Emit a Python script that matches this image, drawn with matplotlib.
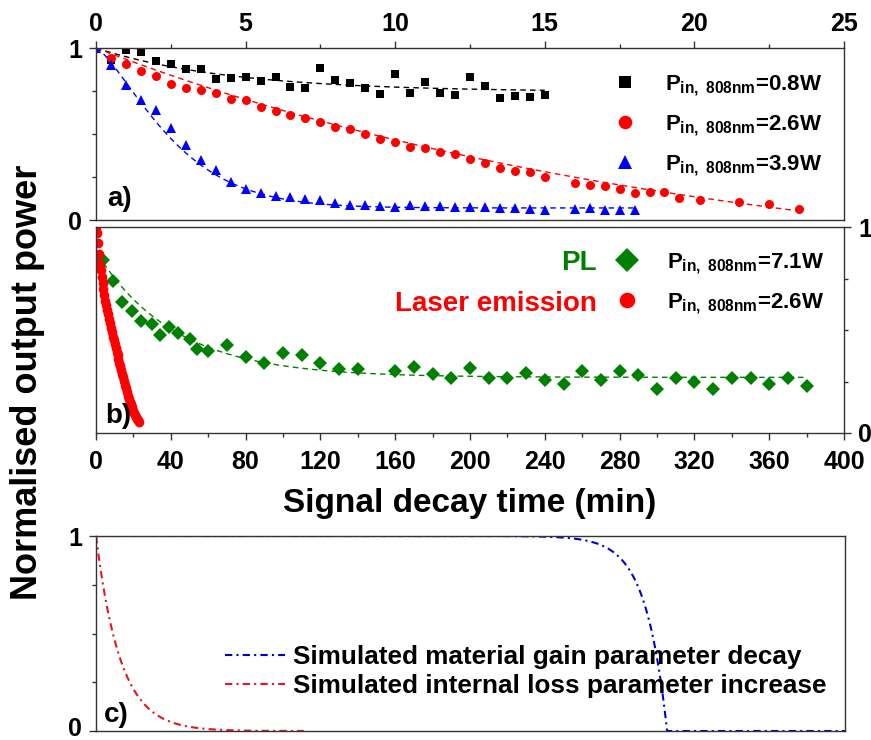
import numpy as np
import matplotlib
matplotlib.use("Agg")
import matplotlib.pyplot as plt
import matplotlib.transforms as mtransforms
from matplotlib.ticker import MultipleLocator, NullLocator

plt.rcParams.update({
    "font.family": ["Liberation Sans", "DejaVu Sans"],
    "font.weight": "bold",
    "axes.labelweight": "bold",
    "mathtext.fontset": "custom",
    "mathtext.rm": "Liberation Sans:bold",
    "mathtext.it": "Liberation Sans:bold",
    "mathtext.bf": "Liberation Sans:bold",
    "axes.linewidth": 1.0,
    "axes.edgecolor": "#333333",
})

# ---------------- panel a: output power vs time (hours) ----------------
t_08 = [0.0, 0.5, 1.0, 1.5, 2.0, 2.5, 3.0, 3.5, 4.0, 4.5, 5.0, 5.5, 6.0, 6.5, 7.0,
        7.5, 8.0, 8.5, 9.0, 9.5, 10.0, 10.5, 11.0, 11.5, 12.0, 12.5, 13.0, 13.5,
        14.0, 14.5, 15.0]
p_08 = [1.0, 0.93, 0.989, 0.979, 0.927, 0.908, 0.880, 0.880, 0.819, 0.823, 0.830,
        0.811, 0.834, 0.773, 0.766, 0.882, 0.815, 0.796, 0.766, 0.735, 0.846,
        0.737, 0.802, 0.737, 0.729, 0.829, 0.777, 0.712, 0.722, 0.716, 0.726]

t_26 = [0.0, 0.5, 1.0, 1.5, 2.0, 2.5, 3.0, 3.5, 4.0, 4.5, 5.0, 5.5, 6.0, 6.5, 7.0,
        7.5, 8.0, 8.5, 9.0, 9.5, 10.0, 10.5, 11.0, 11.5, 12.0, 12.5, 13.0, 13.5,
        14.0, 14.5, 15.0, 16.0, 16.5, 17.0, 17.5, 18.0, 18.5, 19.0, 19.5, 20.2,
        21.5, 22.5, 23.5]
p_26 = [1.0, 0.941, 0.908, 0.868, 0.836, 0.792, 0.766, 0.758, 0.739, 0.703, 0.697,
        0.659, 0.632, 0.608, 0.592, 0.569, 0.539, 0.528, 0.501, 0.469, 0.453,
        0.427, 0.421, 0.398, 0.383, 0.355, 0.334, 0.303, 0.284, 0.278, 0.252,
        0.218, 0.202, 0.195, 0.179, 0.155, 0.164, 0.160, 0.130, 0.117, 0.105,
        0.095, 0.063]

t_39 = [0.0, 0.5, 1.0, 1.5, 2.0, 2.5, 3.0, 3.5, 4.0, 4.5, 5.0, 5.5, 6.0, 6.5, 7.0,
        7.5, 8.0, 8.5, 9.0, 9.5, 10.0, 10.5, 11.0, 11.5, 12.0, 12.5, 13.0, 13.5,
        14.0, 14.5, 15.0, 16.0, 16.5, 17.0, 17.5, 18.0]
p_39 = [1.0, 0.903, 0.785, 0.699, 0.642, 0.535, 0.436, 0.351, 0.290, 0.221, 0.183,
        0.156, 0.141, 0.132, 0.122, 0.117, 0.098, 0.090, 0.090, 0.080, 0.077,
        0.086, 0.084, 0.080, 0.075, 0.075, 0.075, 0.069, 0.069, 0.065, 0.061,
        0.065, 0.069, 0.061, 0.061, 0.061]

# exponential fit parameters: offset, amplitude, time constant (h), stretch
fit_08 = (0.745, 0.255, 4.5, 1.0)
fit_26 = (-0.40, 1.40, 20.8, 1.0)
fit_39 = (0.07, 0.93, 2.86, 1.35)

# ---------------- panel b: PL and laser emission vs time (min) ----------------
t_pl = [4, 9, 14, 19, 24, 30, 34, 39, 44, 50, 54, 60, 70, 80, 90, 100, 110, 120,
        130, 140, 160, 170, 180, 190, 200, 210, 220, 230, 240, 250, 260, 270,
        280, 290, 300, 310, 320, 330, 340, 350, 360, 370, 380]
p_pl = [0.841, 0.740, 0.636, 0.593, 0.543, 0.527, 0.476, 0.514, 0.486, 0.455,
        0.407, 0.399, 0.428, 0.367, 0.338, 0.389, 0.378, 0.338, 0.311, 0.311,
        0.300, 0.319, 0.287, 0.269, 0.317, 0.269, 0.268, 0.290, 0.258, 0.237,
        0.300, 0.258, 0.300, 0.280, 0.216, 0.268, 0.247, 0.216, 0.268, 0.268,
        0.239, 0.268, 0.228]
fit_pl = (0.27, 0.61, 42.0, 1.0)

t_las = [0.0, 0.5, 1.0, 1.5, 2.0, 2.5, 3.0, 3.5, 4.0, 4.5, 5.0, 5.5, 6.0, 6.5,
         7.0, 7.5, 8.0, 8.5, 9.0, 9.5, 10.0, 10.5, 11.0, 11.5, 12.0, 12.5, 13.0,
         13.5, 14.0, 14.5, 15.0, 15.5, 16.0, 16.5, 17.0, 17.5, 18.0, 18.5, 19.0,
         19.5, 20.0, 20.5, 21.0, 21.5, 22.0, 22.5, 23.0]
p_las = [1.00, 0.97, 0.92, 0.87, 0.82, 0.79, 0.755, 0.728, 0.70, 0.668, 0.642,
         0.62, 0.598, 0.576, 0.553, 0.532, 0.51, 0.488, 0.468, 0.45, 0.432,
         0.412, 0.394, 0.377, 0.36, 0.342, 0.325, 0.307, 0.288, 0.27, 0.251,
         0.235, 0.218, 0.20, 0.182, 0.165, 0.152, 0.14, 0.128, 0.117, 0.107,
         0.098, 0.088, 0.08, 0.07, 0.062, 0.055]

# ---------------- panel c: simulated parameters ----------------
gain_knee, gain_scale, gain_end = 305.0, 11.5, 400.0
loss_tau, loss_end = 13.0, 111.0


def stretched_exp(t, params):
    y0, amp, tau, beta = params
    return y0 + amp * np.exp(-(np.asarray(t) / tau) ** beta)


RED = "#ff0000"
BLUE = "#0000ff"
GREEN = "#008000"

fig = plt.figure(figsize=(8.71, 7.40), dpi=100)
ax_a = fig.add_axes([96 / 871, 1 - 220 / 740, 748 / 871, 172 / 740])
ax_b = fig.add_axes([96 / 871, 1 - 433 / 740, 748 / 871, 206 / 740])
ax_c = fig.add_axes([96 / 871, 1 - 731 / 740, 749 / 871, 195 / 740])

tick_kw = dict(direction="out", labelsize=18, width=1.0, color="#333333")
minor_kw = dict(length=3, direction="out", width=1.0, color="#333333")

# ---- a ----
ax_a.plot(t_08, p_08, "s", color="black", ms=6, mew=0, label=r"$P_{in,\ 808nm}$=0.8W")
ax_a.plot(t_26, p_26, "o", color=RED, ms=6.5, mew=0, label=r"$P_{in,\ 808nm}$=2.6W")
ax_a.plot(t_39, p_39, "^", color=BLUE, ms=7, mew=0, label=r"$P_{in,\ 808nm}$=3.9W")
for tmax, prm, col in [(15.0, fit_08, "black"), (23.5, fit_26, RED), (18.0, fit_39, BLUE)]:
    tt = np.linspace(0, tmax, 300)
    ax_a.plot(tt, stretched_exp(tt, prm), "--", color=col, lw=1.0, dashes=(4, 3))
ax_a.set_xlim(0, 25)
ax_a.set_ylim(0, 1)
ax_a.xaxis.tick_top()
ax_a.set_xticks([0, 5, 10, 15, 20, 25])
ax_a.xaxis.set_minor_locator(MultipleLocator(2.5))
ax_a.set_yticks([0, 1])
ax_a.yaxis.set_minor_locator(MultipleLocator(0.25))
ax_a.tick_params(axis="y", which="major", length=5, pad=5, **tick_kw)
ax_a.tick_params(axis="x", which="major", length=5, pad=3.5, **tick_kw)
ax_a.tick_params(axis="both", which="minor", **minor_kw)
ax_a.legend(loc="upper left", bbox_to_anchor=((614 - 96) / 748, 1 - 25 / 172),
            frameon=False, fontsize=16, handlelength=1.0, handletextpad=1.3,
            labelspacing=0.68, borderpad=0, borderaxespad=0, markerscale=1.5)
ax_a.text(0.015, 0.08, "a)", transform=ax_a.transAxes, fontsize=20, ha="left", va="baseline")

# ---- b ----
ax_b.plot(t_pl, p_pl, "D", color=GREEN, ms=7.5, mew=0, label=r"$P_{in,\ 808nm}$=7.1W")
ax_b.plot(t_las, p_las, "o", color=RED, ms=7, mew=0, label=r"$P_{in,\ 808nm}$=2.6W")
tt = np.linspace(4, 380, 400)
ax_b.plot(tt, stretched_exp(tt, fit_pl), "--", color=GREEN, lw=1.0, dashes=(4, 3))
ax_b.set_xlim(0, 400)
ax_b.set_ylim(0, 1)
ax_b.set_xticks(np.arange(0, 401, 40))
ax_b.xaxis.set_minor_locator(MultipleLocator(20))
ax_b.yaxis.tick_right()
ax_b.set_yticks([0, 1])
ax_b.yaxis.set_minor_locator(MultipleLocator(0.25))
ax_b.tick_params(axis="y", which="major", length=5, pad=5, **tick_kw)
ax_b.tick_params(axis="x", which="major", length=5, pad=7, **tick_kw)
ax_b.tick_params(axis="both", which="minor", **minor_kw)
ax_b.set_xlabel("Signal decay time (min)", fontsize=24, labelpad=10)
ax_b.legend(loc="upper left", bbox_to_anchor=((616 - 96) / 748, 1 - 24 / 206),
            frameon=False, fontsize=16, handlelength=1.0, handletextpad=1.3,
            labelspacing=0.7, borderpad=0, borderaxespad=0, markerscale=1.6)
ax_b.text((597 - 96) / 748, 1 - 36 / 206, "PL", transform=ax_b.transAxes,
          fontsize=20, color=GREEN, ha="right", va="center")
ax_b.text((597 - 96) / 748, 1 - 77 / 206, "Laser emission", transform=ax_b.transAxes,
          fontsize=20, color=RED, ha="right", va="center")
ax_b.text(0.012, 0.05, "b)", transform=ax_b.transAxes, fontsize=20, ha="left", va="baseline")

# ---- c ----
tg = np.linspace(0, gain_end, 2000)
gain = np.clip(1 - np.exp((tg - gain_knee) / gain_scale), 0, 1)
tl = np.linspace(0, loss_end, 600)
loss = np.exp(-tl / loss_tau)
ax_c.plot(tg, gain, color="#0000cc", lw=1.5, linestyle=(0, (3.5, 2, 1, 2)),
          label="Simulated material gain parameter decay")
ax_c.plot(tl, loss, color="#e8141c", lw=1.5, linestyle=(0, (3.5, 2, 1, 2)),
          label="Simulated internal loss parameter increase")
ax_c.set_xlim(0, 400)
ax_c.set_ylim(0, 1)
ax_c.xaxis.set_major_locator(NullLocator())
ax_c.set_yticks([0, 1])
ax_c.yaxis.set_minor_locator(MultipleLocator(0.25))
ax_c.tick_params(axis="both", which="major", length=5, pad=5, **tick_kw)
ax_c.tick_params(axis="both", which="minor", **minor_kw)
ax_c.legend(loc="upper left", bbox_to_anchor=((225 - 96) / 749, 1 - 109 / 195),
            frameon=False, fontsize=18.8, handlelength=2.3, handletextpad=0.3,
            labelspacing=0.2, borderpad=0, borderaxespad=0)
ax_c.text(0.01, 0.045, "c)", transform=ax_c.transAxes, fontsize=20, ha="left", va="baseline")

fig.text(27.5 / 871, 1 - 382 / 740, "Normalised output power", rotation=90,
         fontsize=26, ha="center", va="center")

# the lowest "0" sits on the baseline, nudged slightly down toward the canvas edge
fig.canvas.draw()
for lbl in ax_c.get_yticklabels():
    if lbl.get_text() == "0":
        lbl.set_verticalalignment("baseline")
        lbl.set_transform(lbl.get_transform()
                          + mtransforms.ScaledTranslation(0, -5 / 100, fig.dpi_scale_trans))
fig.savefig("out.png", dpi=100)
